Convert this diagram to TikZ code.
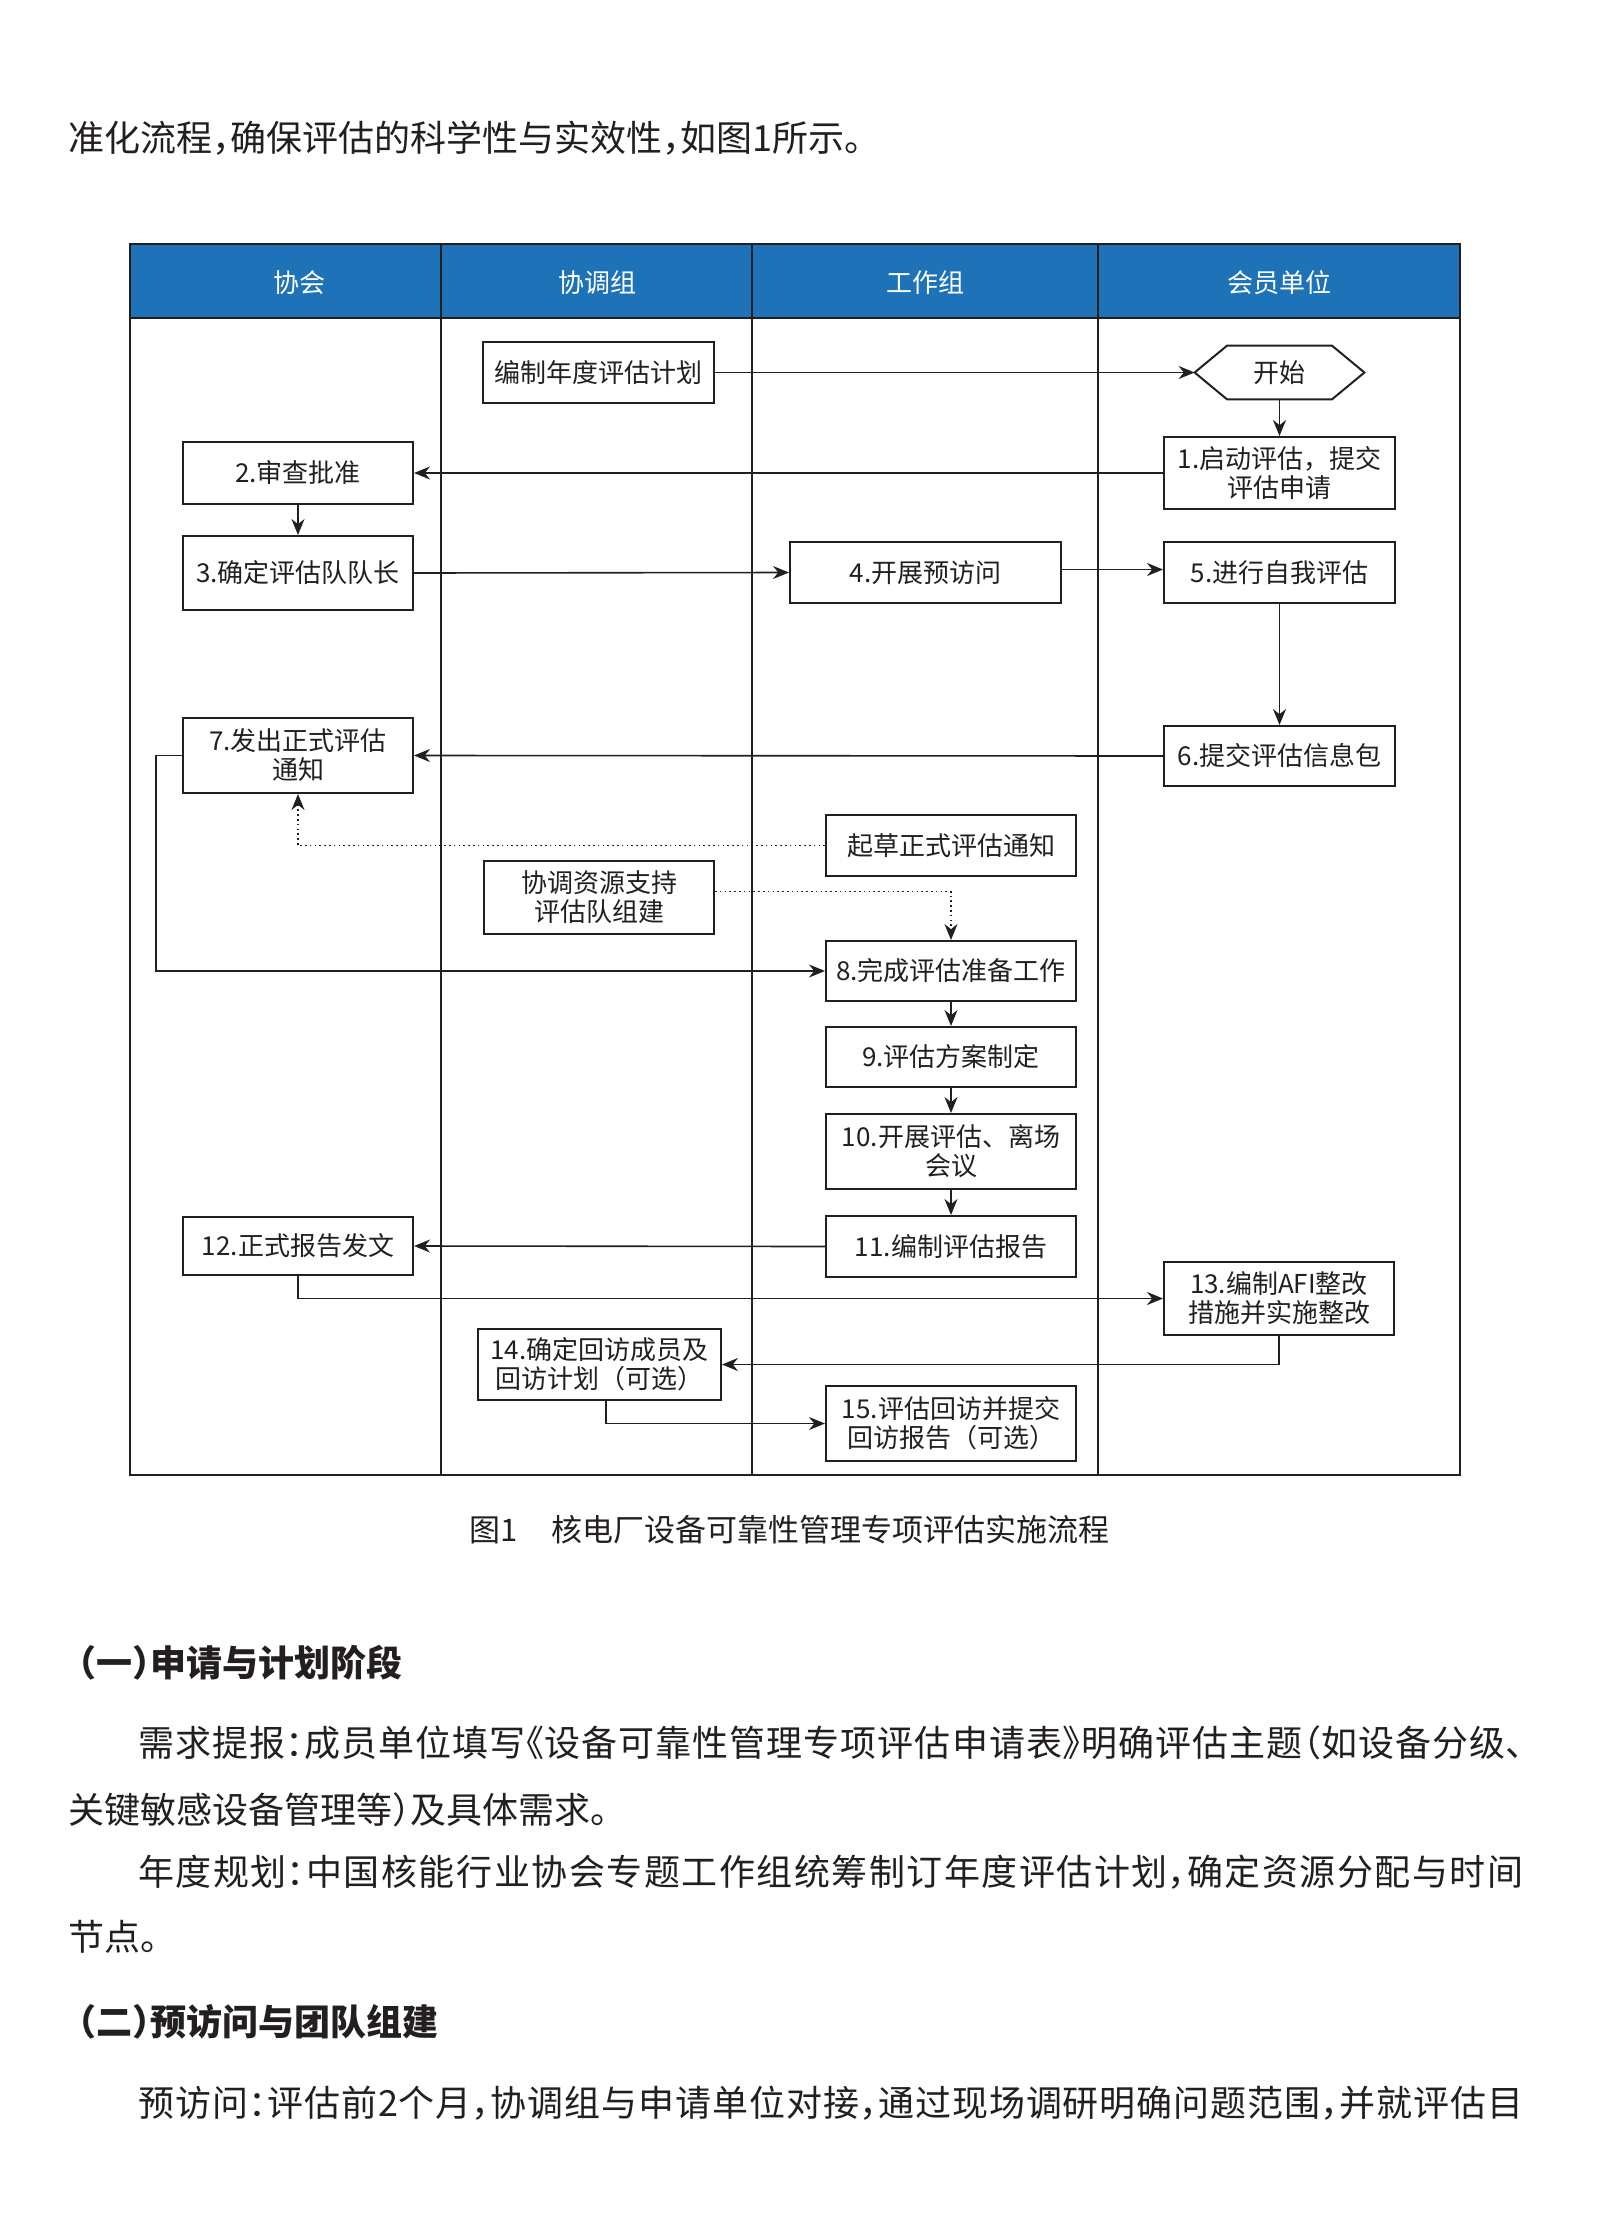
\documentclass[tikz,border=0pt]{standalone}
\usepackage{fontspec}
\setmainfont{Noto Sans CJK SC}
\newfontfamily\bodyfont{Noto Sans CJK SC}[RawFeature=+halt]
\usetikzlibrary{arrows.meta}
\definecolor{hdr}{RGB}{30,114,184}
\definecolor{ink}{RGB}{35,31,32}
\newcommand{\jline}[1]{\parbox{692.5pt}{\XeTeXlinebreaklocale "zh"\XeTeXlinebreakskip=0pt plus 1fil\relax\parfillskip=0pt\relax\noindent #1}}
\begin{document}
\begin{tikzpicture}[x=0.5pt,y=-0.5pt,
  box/.style={draw=ink, line width=1pt, inner sep=0pt, align=center, font=\fontsize{13pt}{14.5pt}\selectfont, text=ink},
  conn/.style={draw=ink, line width=0.8pt, -{Stealth[length=8pt,width=6.5pt]}},
  dotconn/.style={conn, dash pattern=on 0.8pt off 1.6pt},
  hdrtext/.style={text=white, inner sep=0pt, font=\fontsize{13pt}{15pt}\selectfont},
  body/.style={anchor=west, inner sep=0pt, text=ink, font=\bodyfont\fontsize{18pt}{22pt}\selectfont},
  head/.style={anchor=west, inner sep=0pt, text=ink, font=\bodyfont\bfseries\fontsize{18pt}{22pt}\selectfont},
]
\useasboundingbox (0,0) rectangle (1600,2237);
\fill[white] (0,0) rectangle (1600,2237);

% text above
\node[body] (t0) at (68,138) {准化流程，确保评估的科学性与实效性，如图1所示。};

% swimlane table
\fill[hdr] (130,244) rectangle (1460,318);
\draw[ink, line width=1pt] (130,244) rectangle (1460,1475);
\draw[ink, line width=1.2pt] (130,318) -- (1460,318);
\foreach \x in {441,752,1098} \draw[ink, line width=1pt] (\x,244) -- (\x,1475);

\node[hdrtext] (h1) at (299,283) {协会};
\node[hdrtext] (h2) at (597,283) {协调组};
\node[hdrtext] (h3) at (925,283) {工作组};
\node[hdrtext] (h4) at (1279,283) {会员单位};

% nodes
\node[box, minimum width=115.5pt, minimum height=30.5pt] (plan) at (598.5,372.5) {编制年度评估计划};
\node[inner sep=0pt, minimum width=84.5pt, minimum height=26.5pt, text=ink, font=\fontsize{13pt}{14.5pt}\selectfont] (start) at (1279.5,372.5) {开始};
\draw[ink, line width=1pt] (start.west) -- ([xshift=16.25pt]start.north west) -- ([xshift=-16.25pt]start.north east) -- (start.east) -- ([xshift=-16.25pt]start.south east) -- ([xshift=16.25pt]start.south west) -- cycle;
\node[box, minimum width=115.5pt, minimum height=36pt] (n1) at (1279.5,473) {1.启动评估，提交\\评估申请};
\node[box, minimum width=115pt, minimum height=31pt] (n2) at (298,473) {2.审查批准};
\node[box, minimum width=115pt, minimum height=37pt] (n3) at (298,573) {3.确定评估队队长};
\node[box, minimum width=135.5pt, minimum height=30.5pt] (n4) at (925.5,572.5) {4.开展预访问};
\node[box, minimum width=115.5pt, minimum height=30.5pt] (n5) at (1279.5,572.5) {5.进行自我评估};
\node[box, minimum width=115.5pt, minimum height=30pt] (n6) at (1279.5,756) {6.提交评估信息包};
\node[box, minimum width=115pt, minimum height=37.5pt] (n7) at (298,755.5) {7.发出正式评估\\通知};
\node[box, minimum width=125pt, minimum height=30.5pt] (draft) at (951,845.5) {起草正式评估通知};
\node[box, minimum width=115pt, minimum height=36.5pt] (coord) at (599,897.5) {协调资源支持\\评估队组建};
\node[box, minimum width=125pt, minimum height=30pt] (n8) at (951,971) {8.完成评估准备工作};
\node[box, minimum width=125pt, minimum height=30pt] (n9) at (951,1057) {9.评估方案制定};
\node[box, minimum width=125pt, minimum height=37.5pt] (n10) at (951,1151.5) {10.开展评估、离场\\会议};
\node[box, minimum width=125pt, minimum height=30.5pt] (n11) at (951,1246.5) {11.编制评估报告};
\node[box, minimum width=115pt, minimum height=29pt] (n12) at (298,1246) {12.正式报告发文};
\node[box, minimum width=115pt, minimum height=36.5pt] (n13) at (1279,1298.5) {13.编制AFI整改\\措施并实施整改};
\node[box, minimum width=121.5pt, minimum height=35.5pt] (n14) at (599.5,1364.5) {14.确定回访成员及\\回访计划（可选）};
\node[box, minimum width=125pt, minimum height=37.5pt] (n15) at (951,1423.5) {15.评估回访并提交\\回访报告（可选）};

% connectors
\draw[conn] (plan.east) -- (start.west);
\draw[conn] (start.south) -- (n1.north);
\draw[conn] (n1.west) -- (n2.east);
\draw[conn] (n2.south) -- (n3.north);
\draw[conn] (n3.east) -- (n4.west);
\draw[conn] ([yshift=1.5pt]n4.east) -- ([yshift=1.5pt]n5.west);
\draw[conn] (n5.south) -- (n6.north);
\draw[conn] (n6.west) -- (n7.east);
\draw[dotconn] (draft.west) -| (n7.south);
\draw[dotconn] ([yshift=3pt]coord.east) -| (n8.north);
\draw[conn] (n7.west) -- ++(-26,0) |- (n8.west);
\draw[conn] (n8.south) -- (n9.north);
\draw[conn] (n9.south) -- (n10.north);
\draw[conn] (n10.south) -- (n11.north);
\draw[conn] (n11.west) -- (n12.east);
\draw[conn] (n12.south) |- (n13.west);
\draw[conn] (n13.south) |- (n14.east);
\draw[conn] ([xshift=3.25pt]n14.south) |- (n15.west);

% caption
\node[anchor=west, inner sep=0pt, text=ink, font=\fontsize{15.5pt}{18pt}\selectfont] (cap) at (469,1530) {图1\hspace{17pt}核电厂设备可靠性管理专项评估实施流程};

% text below
\node[head] (s1) at (78,1663) {（一）申请与计划阶段};
\node[body] (p1) at (138,1743) {\jline{需求提报：成员单位填写《设备可靠性管理专项评估申请表》明确评估主题（如设备分级、}};
\node[body] (p2) at (68,1810) {关键敏感设备管理等）及具体需求。};
\node[body] (p3) at (138,1872) {\jline{年度规划：中国核能行业协会专题工作组统筹制订年度评估计划，确定资源分配与时间}};
\node[body] (p4) at (68,1937) {节点。};
\node[head] (s2) at (78,2022) {（二）预访问与团队组建};
\node[body] (p5) at (138,2103) {\jline{预访问：评估前2个月，协调组与申请单位对接，通过现场调研明确问题范围，并就评估目}};
\end{tikzpicture}
\end{document}
